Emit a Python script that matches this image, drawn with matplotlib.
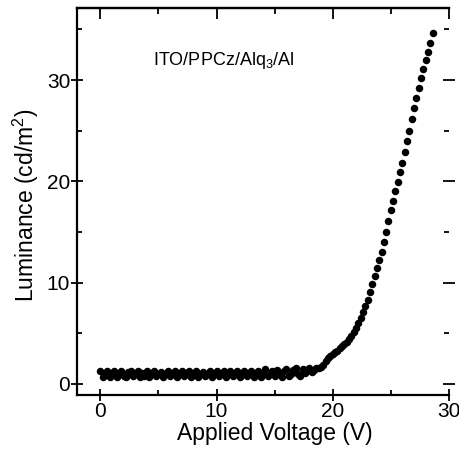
import matplotlib
matplotlib.use("Agg")
import matplotlib.pyplot as plt
from matplotlib.ticker import MultipleLocator

plt.rcParams['font.family'] = ['Liberation Sans', 'DejaVu Sans']
plt.rcParams['mathtext.fontset'] = 'custom'
plt.rcParams['mathtext.rm'] = 'Liberation Sans'

# ---- data ----
voltage = [
    0.0, 0.2, 0.4, 0.6, 0.8, 1.0, 1.2, 1.4, 1.6, 1.8,
    2.0, 2.2, 2.4, 2.6, 2.8, 3.0, 3.2, 3.4, 3.6, 3.8,
    4.0, 4.2, 4.4, 4.6, 4.8, 5.0, 5.2, 5.4, 5.6, 5.8,
    6.0, 6.2, 6.4, 6.6, 6.8, 7.0, 7.2, 7.4, 7.6, 7.8,
    8.0, 8.2, 8.4, 8.6, 8.8, 9.0, 9.2, 9.4, 9.6, 9.8,
    10.0, 10.2, 10.4, 10.6, 10.8, 11.0, 11.2, 11.4, 11.6, 11.8,
    12.0, 12.2, 12.4, 12.6, 12.8, 13.0, 13.2, 13.4, 13.6, 13.8,
    14.0, 14.2, 14.4, 14.6, 14.8, 15.0, 15.2, 15.4, 15.6, 15.8,
    16.0, 16.2, 16.4, 16.6, 16.8, 17.0, 17.2, 17.4, 17.6, 17.8,
    18.0, 18.2, 18.4, 18.6, 18.8,
    19.0, 19.2, 19.4, 19.6, 19.8, 20.0, 20.2, 20.4, 20.6, 20.8,
    21.0, 21.2, 21.4, 21.6, 21.8, 22.0, 22.2, 22.4, 22.6, 22.8,
    23.0, 23.2, 23.4, 23.6, 23.8, 24.0, 24.2, 24.4, 24.6, 24.8,
    25.0, 25.2, 25.4, 25.6, 25.8, 26.0, 26.2, 26.4, 26.6, 26.8,
    27.0, 27.2, 27.4, 27.6, 27.8, 28.0, 28.2, 28.4, 28.6,
]
luminance = [
    1.3, 0.7, 1.0, 1.3, 0.7, 1.1, 1.3, 0.7, 1.0, 1.3,
    0.8, 0.7, 1.2, 1.3, 0.8, 1.0, 1.3, 0.7, 1.1, 0.8,
    1.3, 0.7, 1.0, 1.3, 0.8, 1.0, 1.2, 0.7, 1.0, 1.3,
    0.8, 1.0, 1.3, 0.7, 1.0, 1.3, 0.8, 1.1, 1.3, 0.7,
    1.0, 1.3, 0.7, 1.0, 1.2, 0.8, 1.0, 1.3, 0.7, 1.0,
    1.3, 0.8, 1.0, 1.3, 0.7, 1.0, 1.3, 0.8, 1.1, 1.3,
    0.7, 1.0, 1.3, 0.8, 1.0, 1.3, 0.7, 1.0, 1.3, 0.7,
    1.0, 1.5, 0.8, 1.0, 1.3, 0.8, 1.4, 1.0, 0.7, 1.3,
    1.5, 0.8, 1.0, 1.4, 1.6, 1.0, 0.8, 1.5, 1.1, 1.3,
    1.6, 1.2, 1.4, 1.6, 1.6,
    1.7, 1.9, 2.3, 2.6, 2.8, 3.0, 3.2, 3.3, 3.5, 3.7,
    3.9, 4.1, 4.4, 4.7, 5.1, 5.5, 6.0, 6.5, 7.1, 7.7,
    8.3, 9.1, 9.9, 10.7, 11.4, 12.2, 13.0, 14.0, 15.0, 16.1,
    17.2, 18.1, 19.0, 19.9, 20.9, 21.8, 22.9, 24.0, 25.0, 26.2,
    27.2, 28.2, 29.2, 30.2, 31.1, 32.0, 32.8, 33.7, 34.6,
]
x_ticks = [0, 10, 20, 30]
y_ticks = [0, 10, 20, 30]
device_label = r'ITO/PPCz/Alq$_\mathregular{3}$/Al'

fig = plt.figure(figsize=(4.59, 4.51), dpi=100)
ax = fig.add_axes([0.168, 0.124, 0.810, 0.858])

ax.plot(voltage, luminance, linestyle='none', marker='o', markersize=5.4,
        color='black', markeredgewidth=0)

ax.set_xlim(-2, 30)
ax.set_ylim(-1.1, 37.1)
ax.set_xticks(x_ticks)
ax.set_yticks(y_ticks)
ax.xaxis.set_minor_locator(MultipleLocator(5))
ax.yaxis.set_minor_locator(MultipleLocator(5))

for side in ['left', 'bottom', 'top']:
    ax.spines[side].set_linewidth(1.6)
ax.spines['right'].set_visible(False)

ax.tick_params(which='major', direction='inout', length=9, width=1.3,
               labelsize=15, pad=0.5, top=False, right=True)
ax.tick_params(which='minor', direction='in', length=3.5, width=1.3,
               top=False, right=True)

# top ticks point inward only
sec = ax.secondary_xaxis('top')
sec.set_xticks(x_ticks)
sec.xaxis.set_minor_locator(MultipleLocator(5))
sec.tick_params(which='major', direction='in', length=8, width=1.3, labeltop=False)
sec.tick_params(which='minor', direction='in', length=4, width=1.3)
sec.spines['top'].set_linewidth(1.6)

ax.set_xlabel('Applied Voltage (V)', fontsize=16.5)
ax.set_ylabel(r'Luminance (cd/m$^\mathregular{2}$)', fontsize=16.5)
ax.xaxis.set_label_coords(0.531, -0.07)
ax.yaxis.set_label_coords(-0.098, 0.49)

ax.text(4.5, 31.9, device_label, fontsize=13, va='center', ha='left')

fig.savefig('out.png', dpi=100, facecolor='white')
